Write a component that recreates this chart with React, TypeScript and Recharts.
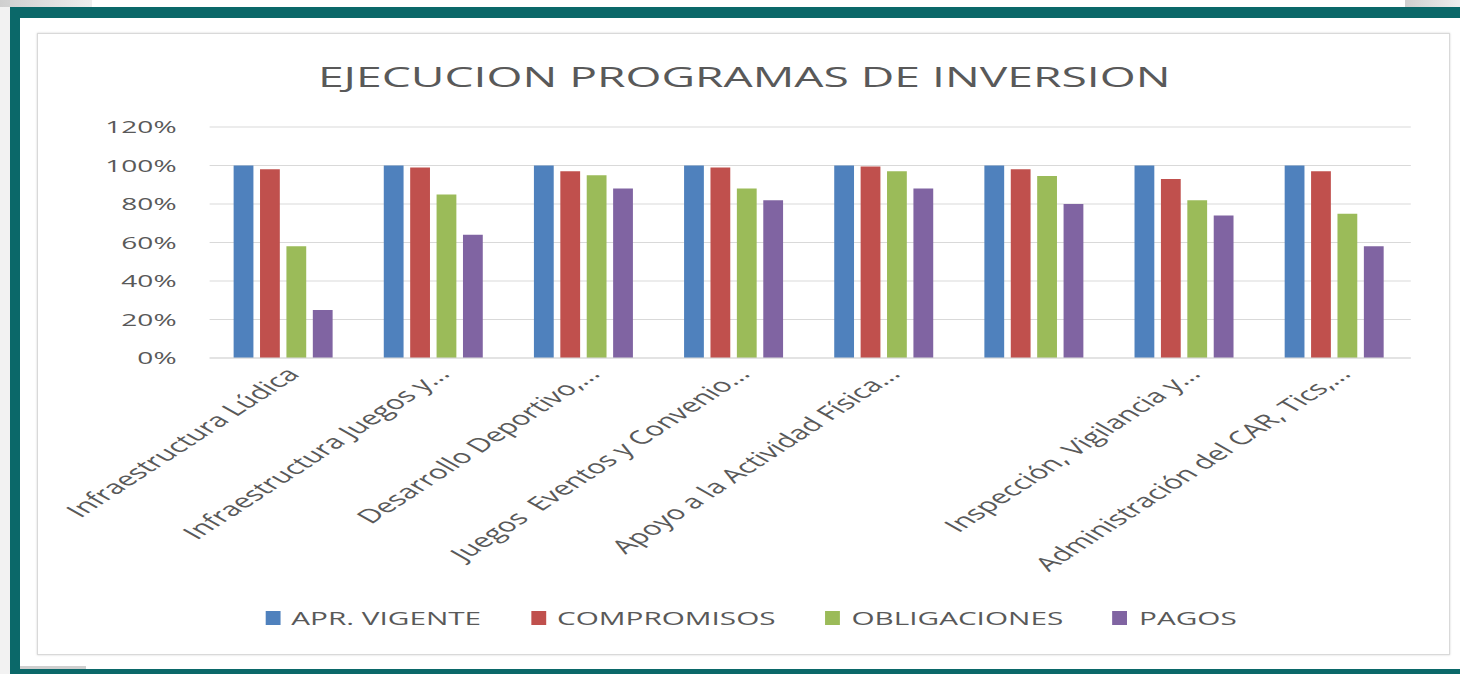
import { BarChart, Bar, XAxis, YAxis, CartesianGrid, Legend } from "recharts";

const categories = [
  "Infraestructura Lúdica",
  "Infraestructura Juegos y...",
  "Desarrollo Deportivo,...",
  "Juegos\u00a0 Eventos y Convenio...",
  "Apoyo a la Actividad Física...",
  "",
  "Inspección, Vigilancia y...",
  "Administración del CAR, Tics,...",
];

const aprVigente = [100, 100, 100, 100, 100, 100, 100, 100];
const compromisos = [98, 99, 97, 99, 99.5, 98, 93, 97];
const obligaciones = [58, 85, 95, 88, 97, 94.5, 82, 75];
const pagos = [25, 64, 88, 82, 88, 80, 74, 58];

const yTicks = [0, 20, 40, 60, 80, 100, 120];

const series = [
  { key: "apr", name: "APR. VIGENTE", color: "#4f81bd" },
  { key: "comp", name: "COMPROMISOS", color: "#c0504d" },
  { key: "obl", name: "OBLIGACIONES", color: "#9bbb59" },
  { key: "pag", name: "PAGOS", color: "#8064a2" },
];

const data = categories.map((name, i) => ({
  name: name || " ",
  apr: aprVigente[i],
  comp: compromisos[i],
  obl: obligaciones[i],
  pag: pagos[i],
}));

// the original screenshot is stretched sideways, so the chart is drawn narrow and scaled
const STRETCH = 1.65;
const PANEL_W = 1413;
const PANEL_H = 622;
const INNER_W = Math.round(PANEL_W / STRETCH);
const FONT = "'Open Sans', sans-serif";
const TEAL = "#0b6869";
const GREY_TEXT = "#595959";

function LegendContent(props: any) {
  const items = props.payload || [];
  return (
    <div
      style={{
        display: "flex",
        justifyContent: "center",
        alignItems: "center",
        height: 24,
        fontFamily: FONT,
        fontSize: 18,
        color: GREY_TEXT,
        paddingLeft: 8,
      }}
    >
      {items.map((it: any, i: number) => (
        <span
          key={it.value}
          style={{ display: "flex", alignItems: "center", marginRight: i < items.length - 1 ? 30 : 0 }}
        >
          <span style={{ display: "inline-block", width: 9, height: 14, background: it.color, marginRight: 7 }} />
          {it.value}
        </span>
      ))}
    </div>
  );
}

export default function App() {
  return (
    <div
      style={{
        position: "absolute",
        left: 0,
        top: 0,
        width: 1460,
        height: 674,
        background: "#fff",
        overflow: "hidden",
      }}
    >
      {/* screenshot frame */}
      <div style={{ position: "absolute", left: 0, top: 0, width: 92, height: 7, background: "linear-gradient(to right, #cfcfcf, #eeeeee)" }} />
      <div style={{ position: "absolute", left: 1405, top: 0, width: 55, height: 7, background: "linear-gradient(to right, #cfcfcf, #eeeeee)" }} />
      <div style={{ position: "absolute", left: 0, top: 7, width: 10, height: 667, background: "#f2f2f2" }} />
      <div style={{ position: "absolute", left: 10, top: 7, width: 1450, height: 11, background: TEAL }} />
      <div style={{ position: "absolute", left: 10, top: 7, width: 10, height: 667, background: TEAL }} />
      <div style={{ position: "absolute", left: 10, top: 669, width: 1450, height: 5, background: TEAL }} />
      <div style={{ position: "absolute", left: 20, top: 666, width: 66, height: 3, background: "#cfcfcf" }} />

      {/* chart panel */}
      <div
        style={{
          position: "absolute",
          left: 37,
          top: 33,
          width: PANEL_W - 2,
          height: PANEL_H - 2,
          border: "1px solid #d9d9d9",
          boxShadow: "0 0 2px rgba(0,0,0,0.18)",
          background: "#fff",
          overflow: "hidden",
        }}
      >
        <div
          style={{
            position: "absolute",
            left: 0,
            top: 0,
            width: INNER_W,
            height: PANEL_H - 2,
            transform: `scaleX(${STRETCH})`,
            transformOrigin: "0 0",
          }}
        >
          <div
            style={{
              position: "absolute",
              left: 0,
              top: 26,
              width: INNER_W,
              height: 32,
              lineHeight: "32px",
              textAlign: "center",
              fontFamily: FONT,
              fontSize: 28,
              color: GREY_TEXT,
              whiteSpace: "nowrap",
            }}
          >
            EJECUCION PROGRAMAS DE INVERSION
          </div>
          <BarChart
            width={INNER_W}
            height={PANEL_H - 2}
            data={data}
            margin={{ top: 93, right: 24, left: 0, bottom: 24 }}
            barCategoryGap="16%"
            barGap={4}
          >
            <CartesianGrid vertical={false} stroke="#d9d9d9" />
            <XAxis
              dataKey="name"
              height={248}
              interval={0}
              angle={-47}
              textAnchor="end"
              tickLine={false}
              tickSize={0}
              tickMargin={8}
              axisLine={{ stroke: "#d9d9d9" }}
              tick={{ fontFamily: FONT, fontSize: 19, fill: GREY_TEXT }}
            />
            <YAxis
              width={104}
              domain={[0, 120]}
              ticks={yTicks}
              tickFormatter={(v: number) => `${v}%`}
              axisLine={false}
              tickLine={false}
              tickSize={0}
              tickMargin={20}
              tick={{ fontFamily: FONT, fontSize: 17, fill: GREY_TEXT }}
            />
            <Legend
              verticalAlign="bottom"
              height={24}
              content={<LegendContent />}
              wrapperStyle={{ left: 0, width: INNER_W }}
            />
            {series.map((s) => (
              <Bar key={s.key} dataKey={s.key} name={s.name} fill={s.color} isAnimationActive={false} />
            ))}
          </BarChart>
        </div>
      </div>
    </div>
  );
}
